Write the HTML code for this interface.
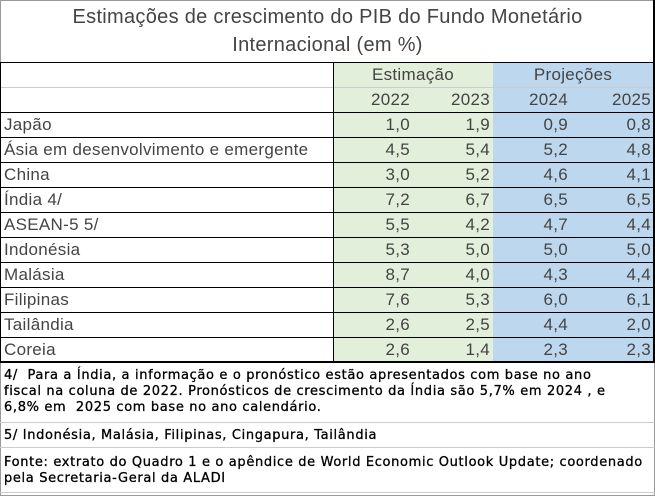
<!DOCTYPE html>
<html><head><meta charset="utf-8"><style>
*{margin:0;padding:0;box-sizing:border-box}
body{width:655px;height:496px;background:#fff;position:relative;overflow:hidden;font-family:"Liberation Sans","NanumGothic",sans-serif;color:#333}
.a{position:absolute}
.t{left:0;width:655px;text-align:center;font-size:20px;color:#444;letter-spacing:0.3px}
.r{position:absolute;height:25px;line-height:25px;font-size:17px;color:#444;letter-spacing:0.3px}
.hl{position:absolute;left:0;width:655px;height:1px}
.vl{position:absolute;width:1px}
.n{position:absolute;left:4px;font-family:"DejaVu Sans","Liberation Sans",sans-serif;font-size:13px;line-height:16px;color:#000;white-space:nowrap;letter-spacing:0.65px;-webkit-text-stroke:0.3px #000}
</style></head><body>
<div class="a" style="left:0;top:0;width:655px;height:496px;border:1px solid #999"></div>
<div class="a t" style="top:6px">Estimações de crescimento do PIB do Fundo Monetário</div>
<div class="a t" style="top:34px">Internacional (em %)</div>
<div class="a" style="left:333px;top:62px;width:160px;height:300px;background:#e2efda"></div>
<div class="a" style="left:493px;top:62px;width:161px;height:300px;background:#bdd7ee"></div>
<div class="hl" style="top:62px;background:#000"></div>
<div class="hl" style="top:87px;background:#ccc;left:333px;width:321px"></div>
<div class="hl" style="top:112px;background:#000"></div>
<div class="hl" style="top:137px;background:#000"></div>
<div class="hl" style="top:162px;background:#000"></div>
<div class="hl" style="top:187px;background:#000"></div>
<div class="hl" style="top:212px;background:#000"></div>
<div class="hl" style="top:237px;background:#000"></div>
<div class="hl" style="top:262px;background:#000"></div>
<div class="hl" style="top:287px;background:#000"></div>
<div class="hl" style="top:312px;background:#000"></div>
<div class="hl" style="top:337px;background:#000"></div>
<div class="hl" style="top:361px;height:2px;background:#000"></div>
<div class="hl" style="top:87px;background:#ccc;width:333px"></div>
<div class="vl" style="left:333px;top:62px;height:300px;background:#000"></div>
<div class="vl" style="left:0;top:62px;height:300px;background:#000"></div>
<div class="vl" style="left:653px;top:0;height:362px;background:#000;width:2px"></div>
<div class="hl" style="top:422px;background:#ccc"></div>
<div class="hl" style="top:447px;background:#ccc"></div>
<div class="hl" style="top:492px;background:#ccc"></div>

<div class="r" style="top:62px;left:333px;width:160px;text-align:center">Estimação</div>
<div class="r" style="top:62px;left:493px;width:160px;text-align:center">Projeções</div>
<div class="r" style="top:87px;left:333px;width:77px;text-align:right">2022</div>
<div class="r" style="top:87px;left:413px;width:77px;text-align:right">2023</div>
<div class="r" style="top:87px;left:493px;width:75px;text-align:right">2024</div>
<div class="r" style="top:87px;left:573px;width:78px;text-align:right">2025</div>

<div id="rows"></div>
<script>
var d=[["Japão","1,0","1,9","0,9","0,8"],["Ásia em desenvolvimento e emergente","4,5","5,4","5,2","4,8"],["China","3,0","5,2","4,6","4,1"],["Índia 4/","7,2","6,7","6,5","6,5"],["ASEAN-5 5/","5,5","4,2","4,7","4,4"],["Indonésia","5,3","5,0","5,0","5,0"],["Malásia","8,7","4,0","4,3","4,4"],["Filipinas","7,6","5,3","6,0","6,1"],["Tailândia","2,6","2,5","4,4","2,0"],["Coreia","2,6","1,4","2,3","2,3"]];
var h="",xs=[[333,77],[413,77],[493,75],[573,78]];
d.forEach(function(r,i){var y=112+i*25;h+='<div class="r" style="top:'+y+'px;left:4px">'+r[0]+'</div>';
for(var j=0;j<4;j++)h+='<div class="r" style="top:'+y+'px;left:'+xs[j][0]+'px;width:'+xs[j][1]+'px;text-align:right">'+r[j+1]+'</div>';});
document.getElementById("rows").outerHTML=h;
</script>
<div class="n" style="top:368px">4/&nbsp; Para a Índia, a informação e o pronóstico estão apresentados com base no ano<br>fiscal na coluna de 2022. Pronósticos de crescimento da Índia são 5,7% em 2024 , e<br>6,8% em&nbsp; 2025 com base no ano calendário.</div>
<div class="n" style="top:428px">5/ Indonésia, Malásia, Filipinas, Cingapura, Tailândia</div>
<div class="n" style="top:455px">Fonte: extrato do Quadro 1 e o apêndice de World Economic Outlook Update; coordenado<br>pela Secretaria-Geral da ALADI</div>
</body></html>
